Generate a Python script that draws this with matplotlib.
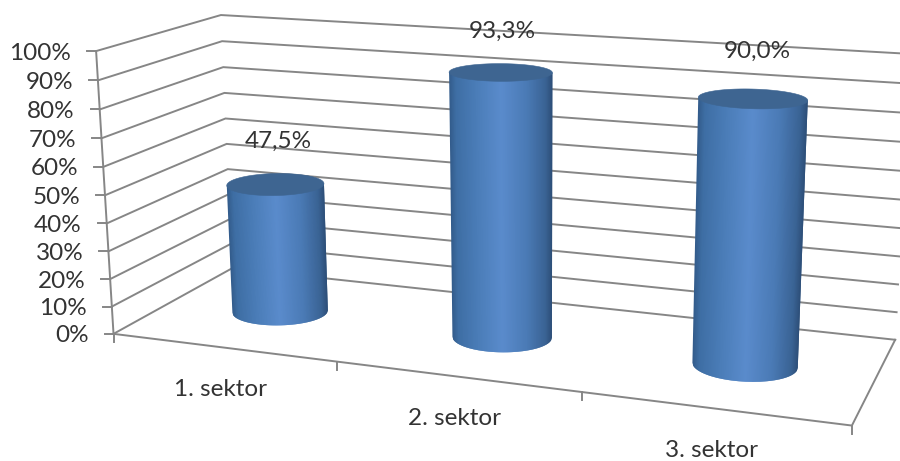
import numpy as np
import matplotlib
matplotlib.use("Agg")
import matplotlib.pyplot as plt
from matplotlib.collections import PolyCollection

categories = ["1. sektor", "2. sektor", "3. sektor"]
values = [47.5, 93.3, 90.0]
value_labels = ["47,5%", "93,3%", "90,0%"]
axis_ticks = [0, 10, 20, 30, 40, 50, 60, 70, 80, 90, 100]
axis_labels = ["0%", "10%", "20%", "30%", "40%", "50%", "60%", "70%", "80%", "90%", "100%"]

GRID = "#868686"
TEXT = "#333333"
TOP = "#3e6591"
FONT = "Lato"
SIZE = 17.5
LINE = 1.4
LABEL_NUDGE = [(0, 1), (-1, 3), (2, -3)]

# box corners as seen on the canvas: (across, depth, height) -> pixel
WORLD = [(0, 0, 0), (0, 0, 1), (0, 1, 0), (0, 1, 1), (1, 1, 0), (1, 1, 1), (1, 0, 0), (1 / 3, 0, 0), (2 / 3, 0, 0)]
PIXEL = [(113, 334), (97, 51), (233, 268), (220, 15), (895, 340), (910, 54), (852, 425), (336, 362), (582, 392)]


def fit_camera():

    rows = []
    rhs = []

    for (u, v, w), (x, y) in zip(WORLD, PIXEL):

        rows.append([u, v, w, 1, 0, 0, 0, 0, -x * u, -x * v, -x * w])
        rows.append([0, 0, 0, 0, u, v, w, 1, -y * u, -y * v, -y * w])
        rhs += [x, y]

    m = np.linalg.lstsq(np.array(rows, dtype = float), np.array(rhs, dtype = float), rcond = None)[0]

    return np.append(m, 1).reshape(3, 4)


CAM = fit_camera()


def project(u, v, w):

    u, v, w = np.broadcast_arrays(u, v, w)
    p = CAM @ np.array([u, v, w, np.ones_like(u)], dtype = float)

    return p[0] / p[2], p[1] / p[2]


def cylinder(ax, index, value):

    uc = (index + 0.5) / len(values)
    ru = 0.0675
    rv = 0.19
    w = value / 100.0

    t = np.linspace(0, 2 * np.pi, 361)
    cu = uc + ru * np.cos(t)
    cv = 0.5 + rv * np.sin(t)
    xb, yb = project(cu, cv, 0)
    xt, yt = project(cu, cv, w)

    stops = [0.0, 0.06, 0.25, 0.5, 0.75, 0.93, 1.0]
    reds = [0x33, 0x3e, 0x4a, 0x5a, 0x4a, 0x3a, 0x2c]
    greens = [0x5c, 0x6e, 0x7c, 0x8b, 0x7a, 0x63, 0x4d]
    blues = [0x8c, 0xa4, 0xb7, 0xcc, 0xb5, 0x94, 0x76]

    # front arc of the base, read across from the left edge to the right edge
    left = np.argmin(xb[:-1])
    right = np.argmax(xb[:-1])
    chord = yb[left] + (xb - xb[left]) / (xb[right] - xb[left]) * (yb[right] - yb[left])
    front = np.where(yb[:-1] >= chord[:-1])[0]
    front = front[np.argsort(xb[front])]

    top_l = np.argmin(xt[:-1])
    top_r = np.argmax(xt[:-1])

    f = np.linspace(0, 1, 121)
    xf = xb[left] + f * (xb[right] - xb[left])
    yf = np.interp(xf, xb[front], yb[front])
    xc = xt[top_l] + f * (xt[top_r] - xt[top_l])
    yc = yt[top_l] + f * (yt[top_r] - yt[top_l])

    # strips overlap the next one a little so that no seams show
    polys = []
    colors = []

    for i in range(len(f) - 1):

        polys.append(np.r_[np.c_[xf[i:i + 3], yf[i:i + 3]], np.c_[xc[i:i + 3], yc[i:i + 3]][::-1]])
        colors.append((np.interp(f[i], stops, reds) / 255, np.interp(f[i], stops, greens) / 255, np.interp(f[i], stops, blues) / 255))

    ax.add_collection(PolyCollection(polys, facecolors = colors, edgecolors = "none", zorder = 3))
    ax.fill(xt, yt, color = TOP, linewidth = 0.4, zorder = 4)

    xm, ym = project(uc, 0.5, w)
    dx, dy = LABEL_NUDGE[index]
    ax.text(xm + 3 + dx, ym - 44 + dy, value_labels[index], ha = "center", va = "center", color = TEXT, fontsize = SIZE, family = FONT, zorder = 6)


fig = plt.figure(figsize = (9, 4.61), dpi = 100)
ax = fig.add_axes([0, 0, 1, 1])
ax.set_xlim(0, 900)
ax.set_ylim(461, 0)
ax.axis("off")

for tick, label in zip(axis_ticks, axis_labels):

    w = tick / 100.0
    x, y = project([0, 0, 1], [0, 1, 1], w)
    ax.plot(x, y, color = GRID, linewidth = LINE, zorder = 1, solid_joinstyle = "miter")
    ax.plot([x[0] - 9, x[0]], [y[0], y[0]], color = GRID, linewidth = LINE, zorder = 1)
    ax.text(x[0] - 25, y[0] + 2, label, ha = "right", va = "center", color = TEXT, fontsize = SIZE, family = FONT)

x, y = project(0, 0, [0, 1])
ax.plot(x, y, color = GRID, linewidth = LINE, zorder = 1)

x, y = project([0, 1, 1], [0, 0, 1], 0)
ax.plot(x, y, color = GRID, linewidth = LINE, zorder = 1)

for i in range(len(categories) + 1):

    x, y = project(i / len(categories), 0, 0)
    ax.plot([x, x], [y, y + 8], color = GRID, linewidth = LINE, zorder = 1)

for i, name in enumerate(categories):

    x, y = project((i + 0.5) / len(categories), 0, 0)
    ax.text(x - 2, y + 42, name, ha = "center", va = "center", color = TEXT, fontsize = SIZE, family = FONT)

for i, value in enumerate(values):

    cylinder(ax, i, value)

fig.savefig("out.png", dpi = 100)
